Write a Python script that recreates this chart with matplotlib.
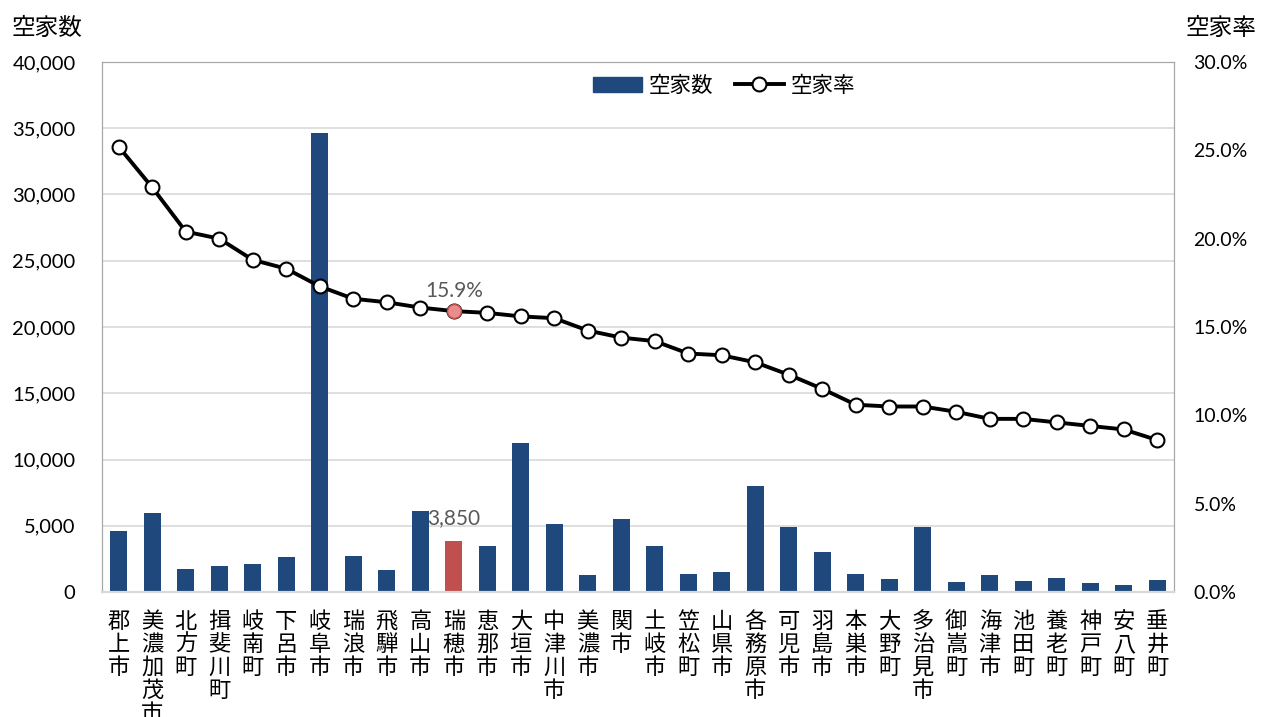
import numpy as np
import matplotlib
matplotlib.use('Agg')
import matplotlib.pyplot as plt
from matplotlib.patches import Patch
from matplotlib.lines import Line2D

plt.rcParams['font.family'] = ['Noto Sans CJK JP', 'DejaVu Sans']

cities = ['郡上市', '美濃加茂市', '北方町', '揖斐川町', '岐南町', '下呂市', '岐阜市', '瑞浪市',
          '飛騨市', '高山市', '瑞穂市', '恵那市', '大垣市', '中津川市', '美濃市', '関市',
          '土岐市', '笠松町', '山県市', '各務原市', '可児市', '羽島市', '本巣市', '大野町',
          '多治見市', '御嵩町', '海津市', '池田町', '養老町', '神戸町', '安八町', '垂井町']
vacant = [4600, 5960, 1720, 1960, 2100, 2640, 34640, 2720,
          1660, 6110, 3850, 3470, 11240, 5130, 1280, 5510,
          3470, 1350, 1510, 8000, 4910, 3020, 1360, 980,
          4910, 750, 1280, 830, 1060, 680, 530, 900]
rate = [25.2, 22.9, 20.4, 20.0, 18.8, 18.3, 17.3, 16.6,
        16.4, 16.1, 15.9, 15.8, 15.6, 15.5, 14.8, 14.4,
        14.2, 13.5, 13.4, 13.0, 12.3, 11.5, 10.6, 10.5,
        10.5, 10.2, 9.8, 9.8, 9.6, 9.4, 9.2, 8.6]
highlight = '瑞穂市'

BLUE = '#1F497D'
RED = '#C0504D'
TICK_FONT = 'Lato'

fig = plt.figure(figsize=(12.62, 7.17), dpi=100)
ax = fig.add_axes([102/1262, 1 - 592/717, (1174-102)/1262, (592-62)/717])
ax2 = ax.twinx()

x = np.arange(len(cities))
hi = cities.index(highlight)
colors = [RED if c == highlight else BLUE for c in cities]
ax.bar(x, vacant, width=0.5, color=colors, zorder=2)

ax.set_ylim(0, 40000)
ax.set_yticks(np.arange(0, 40001, 5000))
ax.set_yticklabels(['{:,}'.format(v) for v in range(0, 40001, 5000)],
                   fontsize=14.5, family=TICK_FONT)
ax.set_xlim(-0.5, len(cities) - 0.5)
ax.set_xticks(x)
ax.set_xticklabels(['\n'.join(c) for c in cities], fontsize=16, linespacing=1.0,
                   va='top')
ax.tick_params(axis='both', length=0)
ax.tick_params(axis='y', pad=19)
ax.tick_params(axis='x', pad=13)
ax.grid(axis='y', color='#D9D9D9', linewidth=1.2, zorder=0)
ax.set_axisbelow(True)

ax2.plot(x, rate, color='black', linewidth=2.8, marker='o', markersize=10,
         markerfacecolor='white', markeredgecolor='black', markeredgewidth=1.5, zorder=3)
ax2.plot(x[hi], rate[hi], marker='o', markersize=10, markerfacecolor='#E88C8C',
         markeredgecolor='#C0504D', markeredgewidth=1.0, zorder=4)
ax2.set_ylim(0, 30)
ax2.set_yticks(np.arange(0, 31, 5))
ax2.set_yticklabels(['{:.1f}%'.format(v) for v in range(0, 31, 5)],
                    fontsize=14, family=TICK_FONT)
ax2.tick_params(axis='y', length=0, pad=14)

for a in (ax, ax2):
    for s in ['left', 'right', 'top']:
        a.spines[s].set_color('#A6A6A6')
    a.spines['bottom'].set_color('#D9D9D9')
    a.spines['bottom'].set_linewidth(1.5)

ax2.annotate('{:.1f}%'.format(rate[hi]), (x[hi], rate[hi]), xytext=(0, 7),
             textcoords='offset points', ha='center', va='bottom',
             fontsize=15, color='#595959', family=TICK_FONT)
ax.annotate('{:,}'.format(vacant[hi]), (x[hi], vacant[hi]), xytext=(0, 9),
            textcoords='offset points', ha='center', va='bottom',
            fontsize=15, color='#595959', family=TICK_FONT)

fig.text(12/1262, 1 - 28/717, '空家数', fontsize=17, va='center', ha='left')
fig.text(1186/1262, 1 - 28/717, '空家率', fontsize=17, va='center', ha='left')

handles = [Patch(color=BLUE),
           Line2D([0], [0], color='black', linewidth=2.8, marker='o', markersize=10,
                  markerfacecolor='white', markeredgewidth=1.5)]
ax2.legend(handles, ['空家数', '空家率'], loc='upper center', bbox_to_anchor=(0.58, 1.012),
           ncol=2, frameon=False, fontsize=15.5, handlelength=2.3, columnspacing=1.0,
           handletextpad=0.3)

fig.savefig('out.png', dpi=100)
